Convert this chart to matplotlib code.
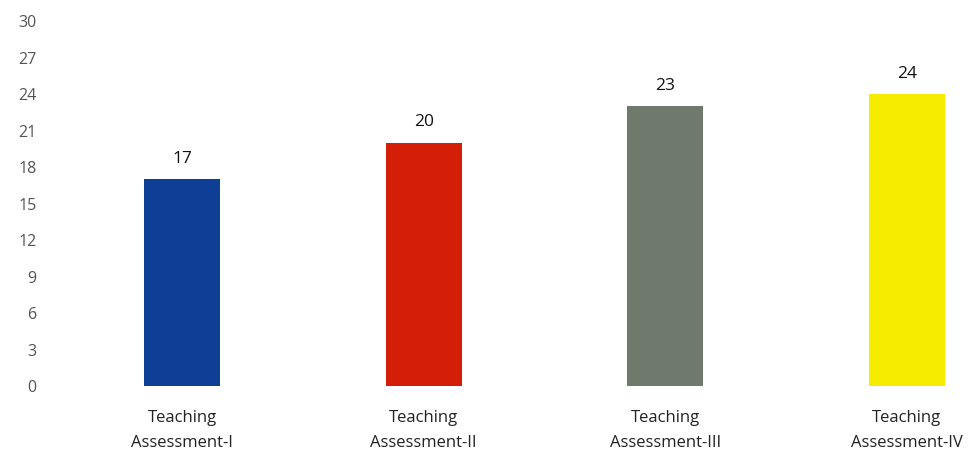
import numpy as np
import matplotlib.pyplot as plt

categories = ['Teaching\nAssessment-I', 'Teaching\nAssessment-II',
              'Teaching\nAssessment-III', 'Teaching\nAssessment-IV']
values = [17, 20, 23, 24]
colors = ['#0d3f96', '#d41e08', '#6f7a6c', '#f5ec00']
yticks = np.arange(0, 31, 3)

plt.rcParams['font.family'] = ['Open Sans', 'DejaVu Sans']

fig = plt.figure(figsize=(9.78, 4.59), dpi=100)
ax = fig.add_axes([0.046, 0.159, 0.954, 0.795])

x = np.arange(len(categories))
bars = ax.bar(x, values, width=0.314, color=colors)

for b, v in zip(bars, values):
    ax.annotate(str(v), (b.get_x() + b.get_width() / 2, v),
                xytext=(0, 9), textcoords='offset points',
                ha='center', va='bottom', fontsize=12.5, color='#111111')

ax.set_xlim(-0.567, 3.294)
ax.set_ylim(0, 30)
ax.set_yticks(yticks)
ax.set_xticks(x)
ax.set_xticklabels(categories, fontsize=12, color='#222222', linespacing=1.75)
ax.tick_params(axis='y', length=0, pad=6, labelsize=11.5, labelcolor='#555555')
ax.tick_params(axis='x', length=0, pad=17)
for s in ax.spines.values():
    s.set_visible(False)

fig.savefig('out.png', dpi=100)
